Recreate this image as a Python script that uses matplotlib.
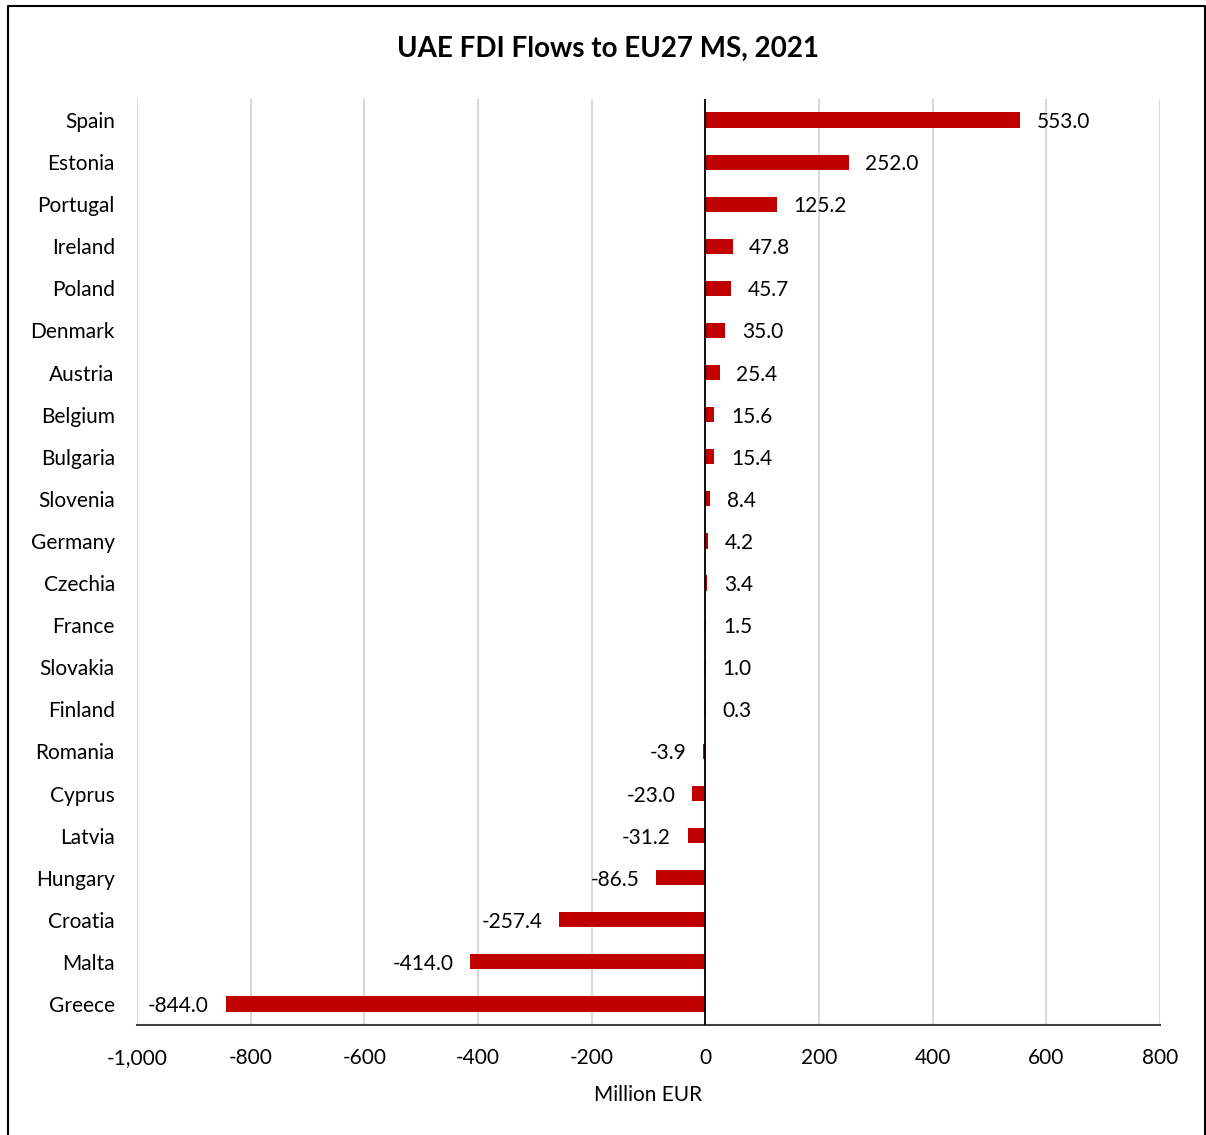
import matplotlib
matplotlib.use('Agg')
import matplotlib.pyplot as plt
from matplotlib.lines import Line2D
from matplotlib.ticker import FuncFormatter

plt.rcParams['font.family'] = ['Lato', 'DejaVu Sans']

# Datos
countries = ['Spain', 'Estonia', 'Portugal', 'Ireland', 'Poland', 'Denmark',
             'Austria', 'Belgium', 'Bulgaria', 'Slovenia', 'Germany', 'Czechia',
             'France', 'Slovakia', 'Finland', 'Romania', 'Cyprus', 'Latvia',
             'Hungary', 'Croatia', 'Malta', 'Greece']
values = [553.0, 252.0, 125.2, 47.8, 45.7, 35.0, 25.4, 15.6, 15.4, 8.4, 4.2,
          3.4, 1.5, 1.0, 0.3, -3.9, -23.0, -31.2, -86.5, -257.4, -414.0, -844.0]
xticks = [-1000, -800, -600, -400, -200, 0, 200, 400, 600, 800]

fig = plt.figure(figsize=(12.06, 11.35), dpi=100)
ax = fig.add_axes([0.1136, 0.0969, 0.8483, 0.8159])

pos = range(len(countries))
ax.barh(pos, values, height=0.36, color='#C00000', zorder=3)

for i, v in enumerate(values):
    if v >= 0:
        ax.annotate(f'{v:.1f}', (v, i), xytext=(12, 0), textcoords='offset points',
                    ha='left', va='center_baseline', fontsize=15)
    else:
        ax.annotate(f'{v:.1f}', (v, i), xytext=(-12, 0), textcoords='offset points',
                    ha='right', va='center_baseline', fontsize=15)

ax.set_xlim(-1000, 800)
ax.set_ylim(len(countries) - 0.5, -0.5)
ax.set_yticks(list(pos))
ax.set_yticklabels(countries, fontsize=15)
ax.set_xticks(xticks)
ax.xaxis.set_major_formatter(FuncFormatter(lambda x, _: f'{x:,.0f}'))
ax.tick_params(axis='x', labelsize=15, length=0, pad=16.5)
ax.tick_params(axis='y', length=0, pad=16)

ax.grid(axis='x', color='#d9d9d9', linewidth=1.5, zorder=0)
ax.axvline(0, color='black', linewidth=1.3, zorder=4)
for s in ['top', 'right', 'left']:
    ax.spines[s].set_visible(False)
ax.spines['bottom'].set_color('#404040')
ax.spines['bottom'].set_linewidth(1.5)

ax.set_xlabel('Million EUR', fontsize=15, labelpad=12)
fig.text(0.504, 0.957, 'UAE FDI Flows to EU27 MS, 2021', ha='center', va='center',
         fontsize=20, fontweight='bold')

# Marco
x0, x1, y1 = 8 / 1206, 1205 / 1206, 1 - 6 / 1135
fig.add_artist(Line2D([x0, x0, x1, x1], [0, y1, y1, 0], color='black', linewidth=1.5))

fig.savefig('out.png', dpi=100)
